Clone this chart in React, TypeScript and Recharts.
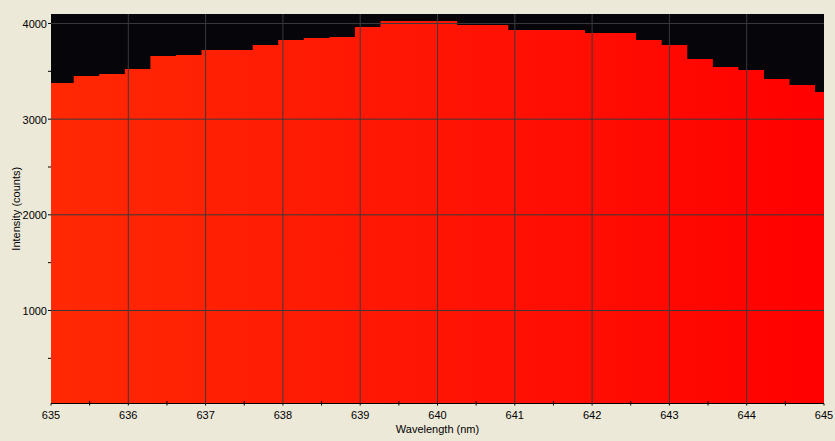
import React from 'react';
import { AreaChart, Area, XAxis, YAxis, CartesianGrid } from 'recharts';

// Bin start wavelengths (nm) and intensities (counts)
const wavelengths = [
  634.963, 635.294, 635.624, 635.955, 636.286, 636.617, 636.947, 637.278,
  637.609, 637.939, 638.27, 638.601, 638.932, 639.262, 639.593, 639.924,
  640.254, 640.585, 640.916, 641.247, 641.577, 641.908, 642.239, 642.569,
  642.9, 643.231, 643.562, 643.892, 644.223, 644.554, 644.884, 645.215,
];
const intensities = [
  3378, 3451, 3472, 3525, 3661, 3671, 3723, 3723,
  3776, 3828, 3849, 3859, 3964, 4027, 4027, 4026,
  3985, 3985, 3933, 3933, 3933, 3901, 3901, 3828,
  3776, 3629, 3545, 3514, 3420, 3357, 3284, 3284,
];
const xTicks = [
  635, 635.5, 636, 636.5, 637, 637.5, 638, 638.5, 639, 639.5, 640,
  640.5, 641, 641.5, 642, 642.5, 643, 643.5, 644, 644.5, 645,
];
const yTicks = [500, 1000, 1500, 2000, 2500, 3000, 3500, 4000];
const xGrid = [636, 637, 638, 639, 640, 641, 642, 643, 644];
const yGrid = [1000, 2000, 3000, 4000];

const data = wavelengths.map((w, i) => ({ w, v: intensities[i] }));

const FONT = '"Liberation Sans", Arial, sans-serif';

const isMajor = (v: number, step: number) => Math.abs(v / step - Math.round(v / step)) < 1e-6;

const XTick = (props: any) => {
  const { x, y, payload } = props;
  const v = payload.value as number;
  const major = isMajor(v, 1);
  return (
    <g>
      <line x1={x} x2={x} y1={major ? y : y - 2.5} y2={y + 2} stroke="#000" strokeWidth={1} />
      {major && (
        <text x={x} y={y + 15} textAnchor="middle" fontSize={11} fontFamily={FONT} fill="#000">
          {v}
        </text>
      )}
    </g>
  );
};

const YTick = (props: any) => {
  const { x, y, payload } = props;
  const v = payload.value as number;
  const major = isMajor(v, 1000);
  return (
    <g>
      <line x1={x - 3} x2={x} y1={y} y2={y} stroke="#000" strokeWidth={1} />
      {major && (
        <text x={x - 4} y={y + 4.5} textAnchor="end" fontSize={11} fontFamily={FONT} fill="#000">
          {v}
        </text>
      )}
    </g>
  );
};

const YLabel = (props: any) => {
  const vb = props.viewBox || { x: 0, y: 14, width: 51, height: 390 };
  const cx = vb.x + 20;
  const cy = vb.y + vb.height / 2;
  return (
    <text
      x={cx}
      y={cy}
      transform={`rotate(-90, ${cx}, ${cy})`}
      textAnchor="middle"
      fontSize={11}
      fontFamily={FONT}
      fill="#000"
    >
      Intensity (counts)
    </text>
  );
};

const XLabel = (props: any) => {
  const vb = props.viewBox || { x: 51, y: 404, width: 773, height: 37 };
  const cx = vb.x + vb.width / 2;
  return (
    <text x={cx} y={433} textAnchor="middle" fontSize={11} fontFamily={FONT} fill="#000">
      Wavelength (nm)
    </text>
  );
};

export default function App() {
  return (
    <div style={{ width: 835, height: 441, background: '#ECE9D8', position: 'absolute', left: 0, top: 0 }}>
      <style>{`body{margin:0}`}</style>
      <AreaChart
        width={835}
        height={441}
        data={data}
        margin={{ top: 14, right: 11, left: 0, bottom: 0 }}
      >
        <defs>
          <linearGradient id="spec" x1="0" y1="0" x2="1" y2="0">
            <stop offset="0%" stopColor="#FF2903" />
            <stop offset="50%" stopColor="#FF1404" />
            <stop offset="100%" stopColor="#FF0000" />
          </linearGradient>
        </defs>
        <CartesianGrid horizontal={false} vertical={false} fill="#06050A" fillOpacity={1} />
        <XAxis
          dataKey="w"
          type="number"
          domain={[635, 645]}
          allowDataOverflow
          ticks={xTicks}
          interval={0}
          tickSize={0}
          tickMargin={0}
          tickLine={false}
          axisLine={{ stroke: '#000' }}
          tick={<XTick />}
          height={37.5}
          label={<XLabel />}
        />
        <YAxis
          type="number"
          domain={[28, 4099]}
          allowDataOverflow
          ticks={yTicks}
          interval={0}
          tickSize={0}
          tickMargin={0}
          tickLine={false}
          axisLine={false}
          tick={<YTick />}
          width={51}
          label={<YLabel />}
        />
        <Area
          type="stepAfter"
          dataKey="v"
          stroke="none"
          fill="url(#spec)"
          fillOpacity={1}
          isAnimationActive={false}
          dot={false}
          activeDot={false}
        />
        <CartesianGrid
          stroke="#3A3A3A"
          strokeWidth={1}
          horizontalValues={yGrid}
          verticalValues={xGrid}
          zIndex={400}
        />
      </AreaChart>
    </div>
  );
}
